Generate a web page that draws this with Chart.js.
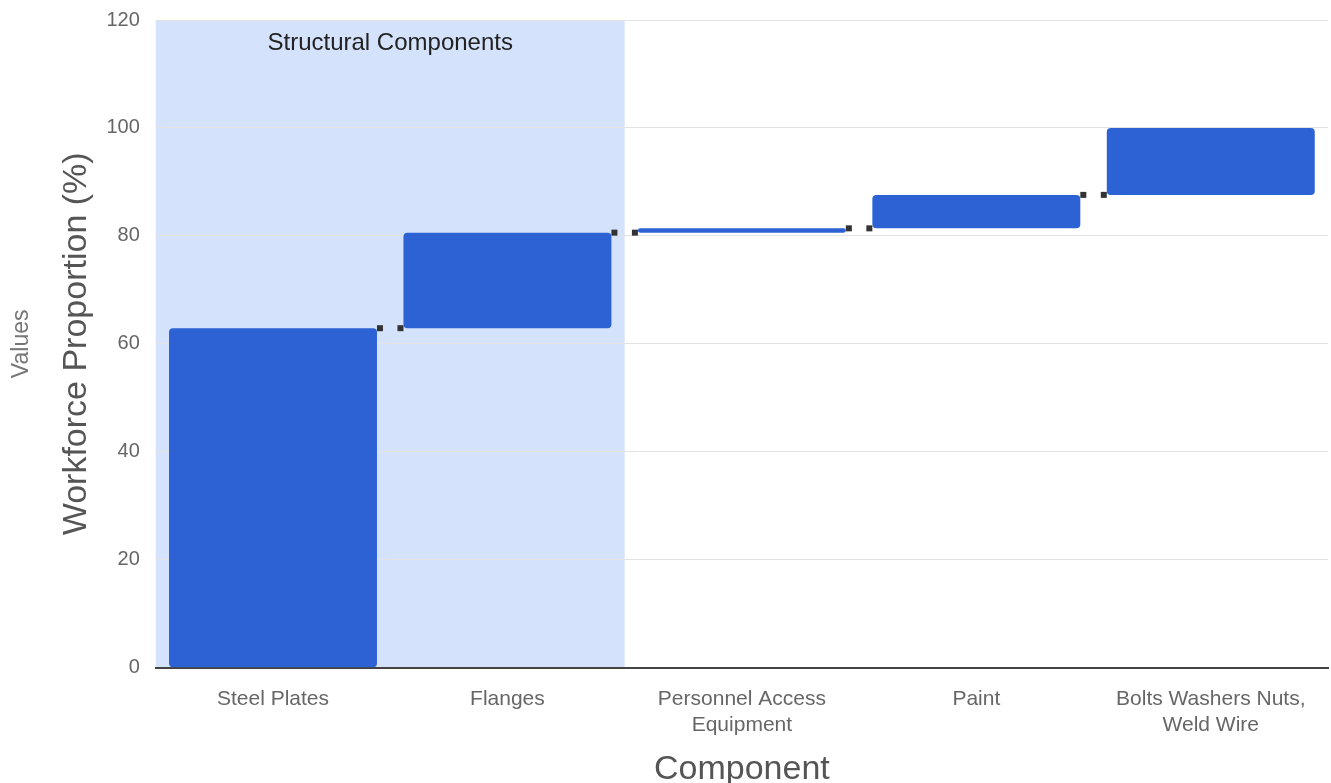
<!DOCTYPE html>
<html>
<head>
<meta charset="utf-8">
<script src="https://cdn.jsdelivr.net/npm/chart.js@4.4.1/dist/chart.umd.min.js"></script>
<style>
  html, body { margin: 0; padding: 0; background: #ffffff; }
  #wrap { width: 1331px; height: 783px; position: relative; }
</style>
</head>
<body>
<div id="wrap"><canvas id="chart"></canvas></div>
<script>
// Component categories (multi-line labels as arrays)
const categories = [
  'Steel Plates',
  'Flanges',
  ['Personnel Access', 'Equipment'],
  'Paint',
  ['Bolts Washers Nuts,', 'Weld Wire']
];
// Share of workforce contributed by each component (%)
const increments = [62.9, 17.7, 0.8, 6.2, 12.4];
// Y-axis tick values
const yTicks = [0, 20, 40, 60, 80, 100, 120];
// Highlighted group of categories
const groupLabel = 'Structural Components';
const groupRange = [0, 1];

// Running totals -> floating [start, end] bars for the waterfall
const floating = [];
let running = 0;
for (const v of increments) {
  floating.push([running, running + v]);
  running += v;
}

const FONT = "'Liberation Sans', Arial, sans-serif";
const BAR = '#2d62d4';

const groupShade = {
  id: 'groupShade',
  beforeDraw(chart) {
    const { ctx, chartArea, scales } = chart;
    const x = scales.x;
    const step = x.getPixelForValue(1) - x.getPixelForValue(0);
    const left = x.getPixelForValue(groupRange[0]) - step / 2;
    const right = x.getPixelForValue(groupRange[1]) + step / 2;
    ctx.save();
    ctx.fillStyle = '#d4e2fb';
    ctx.fillRect(left, chartArea.top, right - left, chartArea.bottom - chartArea.top);
    ctx.fillStyle = '#222222';
    ctx.font = '24px ' + FONT;
    ctx.textAlign = 'center';
    ctx.textBaseline = 'middle';
    ctx.fillText(groupLabel, (left + right) / 2, chartArea.top + 23);
    ctx.restore();
  }
};

const connectors = {
  id: 'connectors',
  afterDatasetsDraw(chart) {
    const { ctx, scales } = chart;
    const meta = chart.getDatasetMeta(0);
    const s = 6;
    ctx.save();
    ctx.fillStyle = '#333333';
    for (let i = 0; i < meta.data.length - 1; i++) {
      const a = meta.data[i];
      const b = meta.data[i + 1];
      const y = scales.y.getPixelForValue(floating[i][1]);
      const ra = a.x + a.width / 2;
      const lb = b.x - b.width / 2;
      ctx.fillRect(ra, y - s / 2, s, s);
      ctx.fillRect(lb - s, y - s / 2, s, s);
    }
    ctx.restore();
  }
};

new Chart(document.getElementById('chart'), {
  type: 'bar',
  data: {
    labels: categories,
    datasets: [{
      data: floating,
      backgroundColor: BAR,
      borderRadius: 4,
      borderSkipped: false,
      categoryPercentage: 1,
      barPercentage: 0.887
    }]
  },
  options: {
    responsive: true,
    maintainAspectRatio: false,
    animation: false,
    layout: { padding: { top: 20, right: 3, left: 0, bottom: 0 } },
    plugins: {
      legend: { display: false },
      tooltip: { enabled: false }
    },
    scales: {
      x: {
        grid: { display: true, color: 'transparent', drawTicks: false },
        border: { display: true, color: '#444444', width: 2 },
        ticks: {
          color: '#666666',
          font: { family: FONT, size: 21, lineHeight: 1.25 },
          padding: 18,
          maxRotation: 0,
          autoSkip: false
        },
        title: {
          display: true,
          text: 'Component',
          color: '#555555',
          font: { family: FONT, size: 34 },
          padding: { top: -7, bottom: -7 }
        }
      },
      y: {
        min: 0,
        max: 120,
        afterBuildTicks(scale) { scale.ticks = yTicks.map(v => ({ value: v })); },
        afterFit(scale) { scale.paddingTop = 10; scale.paddingBottom = 10; },
        grid: { color: '#e3e3e3', drawTicks: false },
        border: { display: false },
        ticks: {
          color: '#666666',
          font: { family: FONT, size: 20 },
          padding: 16
        },
        title: {
          display: true,
          text: 'Workforce Proportion (%)',
          color: '#555555',
          font: { family: FONT, size: 34 },
          padding: { top: 0, bottom: -7 }
        }
      },
      y2: {
        position: 'left',
        weight: 1,
        min: 0,
        max: 120,
        grid: { display: false, drawTicks: false },
        border: { display: false },
        ticks: { display: false },
        title: {
          display: true,
          text: 'Values',
          color: '#777777',
          font: { family: FONT, size: 23 },
          padding: { top: 7.5, bottom: 21.5 }
        }
      }
    }
  },
  plugins: [groupShade, connectors]
});
</script>
</body>
</html>
